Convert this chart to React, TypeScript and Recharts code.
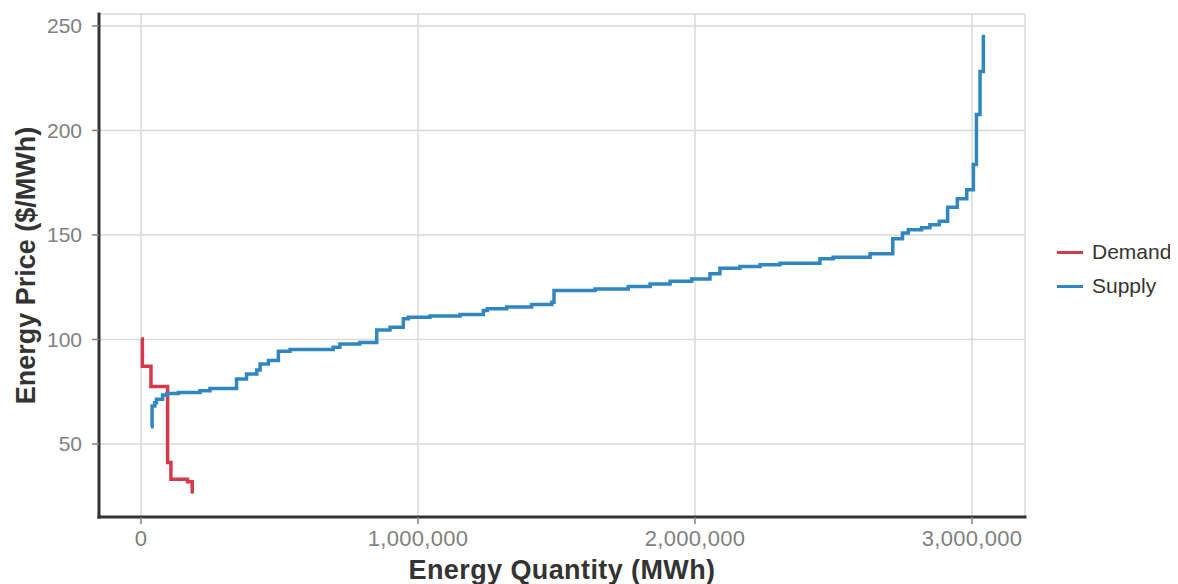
import * as React from "react";
import {
  LineChart,
  Line,
  CartesianGrid,
  XAxis,
  YAxis,
  Legend,
  Label,
} from "recharts";

// quantity (MWh) where each step starts, and its price ($/MWh)
const demandQuantity = [0, 5000, 36000, 96000, 108000, 168000, 185000];
const demandPrice = [100.3, 87.2, 77.5, 41.2, 33.1, 32.0, 26.4];

const supplyQuantity = [
  36000, 40000, 50000, 56000, 78000, 93000, 135000, 213000, 249000, 345000,
  381000, 418000, 430000, 460000, 496000, 538000, 694000, 718000, 790000,
  851000, 899000, 947000, 965000, 1043000, 1152000, 1236000, 1250000, 1320000,
  1410000, 1483000, 1491000, 1639000, 1759000, 1838000, 1910000, 1988000,
  2054000, 2090000, 2162000, 2235000, 2307000, 2451000, 2499000, 2632000,
  2714000, 2749000, 2770000, 2818000, 2848000, 2882000, 2912000, 2947000,
  2981000, 3005000, 3016000, 3029000, 3041000,
];
const supplyPrice = [
  58.3, 68.2, 69.8, 71.4, 73.4, 74.2, 74.7, 75.5, 76.6, 81.1, 83.5, 85.4, 88.3,
  89.9, 94.4, 95.2, 96.3, 97.9, 98.6, 104.6, 105.9, 109.9, 110.7, 111.2, 112.0,
  113.9, 114.7, 115.5, 116.7, 117.8, 123.4, 124.2, 125.4, 126.6, 127.9, 129.0,
  131.4, 134.1, 134.9, 135.7, 136.5, 138.6, 139.4, 141.0, 148.2, 150.9, 152.5,
  153.4, 154.9, 156.6, 163.3, 167.3, 171.6, 183.7, 207.6, 228.2, 245.8,
];

const xTicks = [0, 1000000, 2000000, 3000000];
const yTicks = [50, 100, 150, 200, 250];

const seriesNames = ["Demand", "Supply"];
const seriesColors = ["#d43a4a", "#2f86c0"];

const demandData = demandQuantity.map((q, i) => ({ q, p: demandPrice[i] }));
const supplyData = supplyQuantity.map((q, i) => ({ q, p: supplyPrice[i] }));

const font = "'Liberation Sans', Arial, sans-serif";

function LegendBox() {
  return (
    <div
      style={{
        fontFamily: font,
        fontSize: 21,
        color: "#333",
        whiteSpace: "nowrap",
      }}
    >
      {seriesNames.map((name, i) => (
        <div
          key={name}
          style={{ display: "flex", alignItems: "center", height: 34 }}
        >
          <div
            style={{
              width: 26,
              height: 3,
              background: seriesColors[i],
              marginRight: 9,
            }}
          />
          <span>{name}</span>
        </div>
      ))}
    </div>
  );
}

export default function App() {
  return (
    <LineChart
      width={1162}
      height={576}
      margin={{ top: 6, right: 145, left: 0, bottom: 0 }}
      style={{ fontFamily: font }}
    >
      <CartesianGrid stroke="#d9d9d9" strokeWidth={1.5} />
      <XAxis
        type="number"
        dataKey="q"
        domain={[-151600, 3191300]}
        ticks={xTicks}
        tickFormatter={(v) => v.toLocaleString("en-US")}
        height={67}
        tickSize={7}
        tickMargin={6}
        tick={{ fill: "#808080", fontSize: 22, letterSpacing: 0.3 }}
        tickLine={{ stroke: "#808080", strokeWidth: 1.5 }}
        axisLine={{ stroke: "#333", strokeWidth: 3, strokeLinecap: "square" }}
        allowDataOverflow
      >
        <Label
          value="Energy Quantity (MWh)"
          position="insideBottom"
          offset={5}
          style={{
            fill: "#333",
            fontSize: 27,
            fontWeight: "bold",
            letterSpacing: 0.4,
          }}
        />
      </XAxis>
      <YAxis
        type="number"
        domain={[15.1, 255.7]}
        ticks={yTicks}
        width={91}
        tickSize={7}
        tickMargin={10}
        tick={{ fill: "#808080", fontSize: 21 }}
        tickLine={{ stroke: "#808080", strokeWidth: 1.5 }}
        axisLine={{ stroke: "#333", strokeWidth: 3, strokeLinecap: "square" }}
        allowDataOverflow
      >
        <Label
          value="Energy Price ($/MWh)"
          angle={-90}
          position="insideLeft"
          offset={17}
          style={{
            fill: "#333",
            fontSize: 27,
            fontWeight: "bold",
            textAnchor: "middle",
          }}
        />
      </YAxis>
      <Legend
        layout="vertical"
        align="center"
        verticalAlign="middle"
        content={<LegendBox />}
        wrapperStyle={{ left: 1049, top: 227, width: "auto" }}
      />
      <Line
        data={demandData}
        dataKey="p"
        name={seriesNames[0]}
        type="stepAfter"
        stroke={seriesColors[0]}
        strokeWidth={3.5}
        dot={false}
        isAnimationActive={false}
      />
      <Line
        data={supplyData}
        dataKey="p"
        name={seriesNames[1]}
        type="stepAfter"
        stroke={seriesColors[1]}
        strokeWidth={3.5}
        dot={false}
        isAnimationActive={false}
      />
    </LineChart>
  );
}
